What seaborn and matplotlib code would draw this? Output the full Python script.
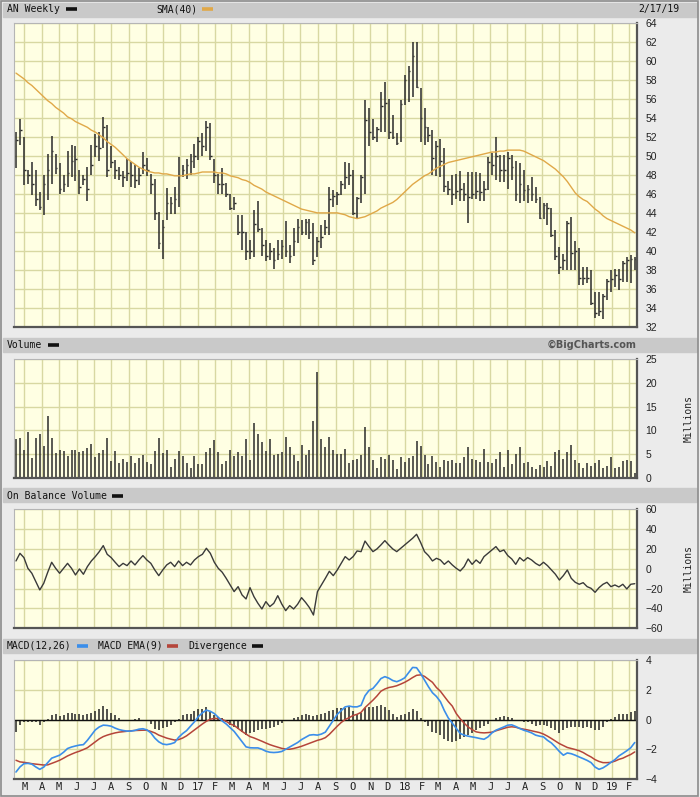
# -------------------------------------------------
# AN weekly chart (BigCharts style) - price, volume, OBV, MACD
# -------------------------------------------------
import pandas as pd
import matplotlib
matplotlib.use("Agg")
import matplotlib.pyplot as plt
import matplotlib.dates as mdates
from matplotlib.patches import Rectangle
from matplotlib.lines import Line2D
import seaborn as sns

sns.set_style("white")
plt.rcParams["font.family"] = ["DejaVu Sans"]

# -------------------------------------------------
# STEP 1 (one per week)
# -------------------------------------------------
first_week = "2016-02-15"

high = [52.5, 53.9, 52.0, 48.5, 49.4, 48.5, 46.2, 48.0, 50.2, 52.1,
        50.2, 49.2, 48.0, 50.5, 51.1, 51.0, 48.5, 48.0, 48.8, 51.1,
        52.3, 52.5, 54.1, 53.2, 51.0, 49.6, 48.8, 48.4, 49.7, 49.3,
        49.0, 48.7, 50.4, 49.8, 48.1, 47.6, 44.1, 43.2, 46.6, 45.7,
        46.7, 49.9, 49.0, 49.7, 50.2, 51.2, 52.0, 52.4, 53.7, 53.5,
        49.7, 48.1, 48.7, 47.1, 46.0, 45.7, 43.8, 43.8, 42.0, 41.1,
        44.3, 45.3, 42.4, 41.1, 40.8, 40.3, 41.1, 41.1, 43.1, 40.6,
        42.4, 43.4, 43.2, 43.4, 43.4, 42.9, 41.5, 42.7, 43.2, 46.7,
        46.4, 46.2, 47.4, 49.4, 49.2, 48.5, 45.7, 48.0, 55.9, 55.0,
        53.9, 53.0, 56.7, 57.8, 56.0, 54.3, 52.4, 55.9, 58.5, 59.4,
        62.0, 62.0, 57.1, 55.0, 53.0, 52.7, 51.6, 51.8, 50.8, 47.4,
        48.0, 48.1, 48.4, 47.1, 48.3, 48.3, 48.3, 48.2, 47.4, 49.9,
        50.3, 52.0, 50.1, 50.1, 50.4, 50.1, 49.5, 49.2, 48.5, 46.9,
        47.8, 46.7, 45.7, 45.0, 45.0, 44.5, 42.2, 40.4, 39.7, 43.1,
        43.6, 41.0, 40.3, 38.3, 38.3, 38.0, 35.7, 35.7, 35.5, 37.1,
        38.0, 38.1, 38.1, 38.9, 39.4, 39.6, 39.4]

low = [48.7, 51.1, 46.9, 47.0, 45.9, 44.7, 44.3, 43.8, 45.4, 47.0,
       48.1, 46.0, 46.2, 46.7, 47.8, 47.4, 46.0, 46.9, 45.3, 48.0,
       49.9, 49.5, 50.8, 47.8, 48.7, 47.6, 47.5, 46.7, 47.4, 46.7,
       46.6, 46.9, 48.1, 47.9, 46.0, 43.2, 40.2, 39.2, 43.2, 43.9,
       43.9, 44.6, 47.8, 47.6, 48.0, 48.7, 49.6, 50.0, 50.5, 49.6,
       47.1, 46.0, 46.0, 45.7, 44.3, 44.3, 41.7, 40.1, 39.0, 39.2,
       39.4, 42.0, 39.5, 38.9, 39.0, 38.1, 39.0, 39.2, 39.4, 38.7,
       39.5, 40.8, 41.7, 41.7, 41.3, 38.5, 39.4, 40.3, 41.7, 41.7,
       44.6, 44.8, 45.9, 46.5, 46.9, 43.8, 43.4, 45.0, 46.0, 51.0,
       51.7, 51.5, 52.5, 52.5, 51.8, 51.8, 51.1, 51.5, 55.3, 55.7,
       56.2, 57.1, 51.5, 51.1, 51.5, 48.0, 47.9, 47.8, 46.2, 45.9,
       44.8, 45.5, 45.3, 45.3, 42.9, 45.5, 45.5, 45.2, 45.3, 46.4,
       48.0, 47.5, 47.3, 47.3, 46.5, 47.5, 45.2, 45.0, 45.2, 45.0,
       45.2, 45.0, 43.4, 43.4, 42.7, 41.5, 39.0, 37.6, 38.0, 38.0,
       38.0, 38.0, 36.4, 36.4, 36.6, 34.3, 32.9, 33.2, 32.8, 34.8,
       35.7, 36.2, 35.9, 36.7, 36.7, 36.6, 38.0]

close = [51.7, 52.7, 48.5, 48.0, 47.0, 45.5, 44.6, 47.0, 48.5, 50.5,
         48.7, 46.5, 47.0, 48.2, 49.5, 49.7, 46.7, 47.6, 46.5, 49.0,
         51.0, 50.8, 53.0, 48.5, 49.4, 48.5, 48.0, 47.8, 48.2, 48.0,
         47.5, 48.0, 49.0, 48.5, 47.0, 44.0, 40.8, 42.5, 45.0, 45.0,
         45.5, 48.0, 48.5, 49.0, 49.5, 50.0, 51.6, 51.0, 53.0, 50.0,
         48.0, 47.0, 47.0, 46.0, 44.5, 45.0, 42.0, 42.0, 40.0, 40.0,
         42.8, 42.3, 40.6, 39.5, 40.0, 39.0, 39.7, 40.5, 40.0, 39.5,
         41.0, 42.5, 42.0, 43.0, 42.0, 39.0, 41.0, 41.5, 42.5, 45.5,
         45.8, 46.0, 47.0, 47.8, 48.0, 44.0, 45.6, 47.8, 53.8, 52.5,
         52.0, 52.8, 55.2, 55.6, 52.5, 52.0, 51.3, 55.5, 58.0, 58.9,
         60.5, 57.2, 54.0, 53.0, 52.2, 49.8, 51.0, 49.5, 46.8, 46.5,
         46.0, 46.3, 46.5, 46.0, 45.7, 46.0, 46.3, 46.2, 46.5, 49.3,
         49.0, 50.0, 48.5, 48.5, 49.8, 48.8, 46.0, 47.0, 46.4, 46.5,
         46.0, 45.5, 43.5, 44.8, 44.5, 41.7, 39.5, 38.3, 39.0, 42.9,
         39.8, 40.0, 37.2, 37.2, 37.2, 34.5, 33.5, 33.7, 35.3, 36.8,
         37.0, 37.5, 37.0, 38.7, 39.0, 39.2, 39.2]

sma40 = [58.7, 58.4, 58.1, 57.7, 57.4, 57.0, 56.6, 56.2, 55.8, 55.5,
         55.1, 54.8, 54.5, 54.1, 53.9, 53.6, 53.4, 53.2, 53.0, 52.7,
         52.5, 52.2, 51.9, 51.5, 51.2, 50.9, 50.5, 50.1, 49.7, 49.4,
         49.1, 48.8, 48.6, 48.4, 48.3, 48.2, 48.2, 48.1, 48.1, 48.0,
         47.9, 47.9, 47.9, 48.0, 48.1, 48.1, 48.2, 48.3, 48.3, 48.3,
         48.3, 48.2, 48.2, 48.1, 47.9, 47.8, 47.7, 47.5, 47.4, 47.2,
         46.9, 46.7, 46.5, 46.2, 46.0, 45.8, 45.6, 45.4, 45.2, 45.0,
         44.8, 44.6, 44.4, 44.3, 44.2, 44.1, 44.0, 44.0, 44.0, 44.0,
         44.0, 44.0, 43.9, 43.8, 43.6, 43.5, 43.4, 43.5, 43.6, 43.8,
         44.0, 44.2, 44.5, 44.7, 44.9, 45.1, 45.4, 45.8, 46.2, 46.6,
         47.0, 47.3, 47.6, 47.9, 48.1, 48.4, 48.7, 48.9, 49.1, 49.3,
         49.4, 49.5, 49.6, 49.7, 49.8, 49.9, 50.0, 50.1, 50.2, 50.3,
         50.4, 50.4, 50.5, 50.5, 50.6, 50.6, 50.6, 50.6, 50.5, 50.3,
         50.1, 49.9, 49.7, 49.5, 49.2, 48.9, 48.6, 48.2, 47.8, 47.3,
         46.7, 46.1, 45.7, 45.4, 45.2, 44.8, 44.4, 44.1, 43.7, 43.4,
         43.2, 43.0, 42.8, 42.6, 42.4, 42.2, 41.9]

# millions of shares
volume = [8.1, 8.3, 5.8, 9.6, 4.2, 8.3, 9.2, 6.7, 13.0, 8.3,
          5.2, 5.8, 5.6, 4.6, 5.8, 5.8, 5.5, 5.6, 6.2, 7.1,
          4.4, 5.2, 5.8, 8.3, 3.6, 5.6, 3.0, 3.9, 3.4, 4.6,
          3.2, 4.2, 4.8, 3.4, 2.8, 5.6, 8.3, 5.2, 5.8, 2.2,
          3.9, 5.6, 4.6, 3.2, 2.1, 4.6, 2.8, 2.8, 5.4, 6.2,
          7.9, 5.4, 2.8, 3.6, 5.8, 4.6, 5.4, 4.6, 8.1, 3.7,
          11.6, 9.3, 7.5, 5.6, 8.1, 4.8, 5.0, 5.4, 8.5, 6.4,
          4.8, 3.6, 6.9, 4.8, 5.8, 12.0, 22.3, 8.1, 6.4, 8.5,
          5.8, 5.1, 5.0, 6.0, 3.2, 3.7, 3.9, 4.8, 10.6, 6.4,
          3.7, 2.0, 4.3, 3.9, 4.8, 3.7, 1.8, 4.4, 3.4, 4.1,
          4.6, 7.7, 6.7, 4.8, 2.8, 4.6, 3.4, 2.2, 3.7, 3.6,
          3.7, 3.0, 3.0, 4.4, 6.4, 3.9, 3.7, 3.4, 6.1, 3.4,
          3.2, 3.9, 5.4, 2.3, 5.8, 2.9, 5.0, 6.4, 3.2, 3.4,
          2.3, 1.8, 2.7, 2.3, 3.5, 2.5, 5.4, 5.8, 3.9, 5.4,
          7.0, 3.7, 3.0, 2.0, 3.2, 2.5, 3.0, 3.7, 2.1, 2.5,
          4.3, 2.1, 2.3, 3.5, 3.7, 3.5, 0.9]

# on balance volume, millions
obv = [7.9, 15.6, 11.3, 0.5, -4.5, -12.9, -21.3, -14.6, -3.5, 6.6,
       0.5, -4.5, 0.5, 5.5, 0.5, -6.2, -0.2, -5.5, 2.2, 7.9,
       12.3, 17.3, 23.4, 14.6, 11.3, 6.6, 2.2, 5.5, 3.2, 7.9,
       3.9, 8.9, 13.3, 8.9, 5.5, -1.2, -6.9, -1.2, 3.9, 6.6,
       2.2, 7.9, 3.2, 6.6, 3.9, 8.9, 12.3, 14.6, 20.7, 15.6,
       6.6, 0.5, -3.5, -9.6, -16.3, -23.0, -18.0, -26.4, -30.4, -19.0,
       -28.1, -34.8, -40.5, -33.1, -38.1, -34.8, -27.1, -35.5, -42.2, -37.1,
       -40.5, -35.8, -29.1, -33.8, -39.2, -46.6, -23.0, -16.3, -9.6, -2.5,
       -6.9, -1.2, 5.5, 12.3, 8.9, 12.3, 18.0, 17.3, 28.0, 22.4,
       17.3, 20.0, 24.0, 28.4, 24.0, 20.0, 17.3, 20.7, 24.0, 27.4,
       30.8, 34.8, 26.7, 17.3, 13.3, 7.9, 10.6, 8.9, 4.5, 7.9,
       3.9, 0.5, -2.2, 2.2, 9.9, 4.5, 8.9, 5.5, 12.3, 15.6,
       19.0, 22.4, 17.3, 19.0, 13.3, 9.9, 4.5, 11.3, 7.9, 11.3,
       8.9, 5.5, 3.2, 6.6, 3.2, -1.2, -5.5, -11.3, -6.9, -1.2,
       -9.6, -13.6, -15.6, -14.0, -18.0, -19.7, -23.7, -19.0, -15.6, -13.6,
       -18.0, -16.3, -18.3, -15.6, -20.3, -15.6, -15.0]

macd = [-3.53, -3.19, -2.97, -2.95, -3.00, -3.19, -3.35, -3.20, -2.90, -2.60,
        -2.50, -2.40, -2.20, -1.95, -1.85, -1.78, -1.72, -1.69, -1.40, -1.05,
        -0.70, -0.50, -0.38, -0.40, -0.45, -0.58, -0.68, -0.74, -0.78, -0.78,
        -0.73, -0.65, -0.62, -0.70, -0.90, -1.25, -1.50, -1.65, -1.69, -1.64,
        -1.55, -1.20, -0.95, -0.75, -0.45, -0.15, 0.20, 0.45, 0.63, 0.55,
        0.40, 0.15, -0.10, -0.30, -0.55, -0.80, -1.15, -1.50, -1.84, -1.90,
        -1.91, -1.91, -2.00, -2.13, -2.20, -2.22, -2.20, -2.15, -2.00, -1.85,
        -1.70, -1.55, -1.35, -1.20, -1.05, -1.02, -1.05, -0.98, -0.85, -0.45,
        -0.05, 0.35, 0.60, 0.85, 0.90, 0.85, 0.85, 0.95, 1.60, 1.95,
        2.09, 2.40, 2.75, 2.88, 2.78, 2.62, 2.54, 2.65, 2.80, 3.15,
        3.50, 3.48, 3.10, 2.65, 2.20, 1.80, 1.55, 1.20, 0.60, 0.10,
        -0.25, -0.60, -0.94, -1.05, -1.12, -1.17, -1.22, -1.28, -1.33, -1.17,
        -0.90, -0.72, -0.61, -0.50, -0.38, -0.36, -0.47, -0.60, -0.72, -0.80,
        -0.90, -1.05, -1.12, -1.17, -1.40, -1.58, -1.85, -2.15, -2.40, -2.25,
        -2.30, -2.40, -2.52, -2.63, -2.75, -2.90, -3.20, -3.35, -3.25, -3.08,
        -2.88, -2.70, -2.45, -2.28, -2.10, -1.90, -1.55]

macd_ema = [-2.74, -2.85, -2.88, -2.92, -2.97, -3.00, -3.03, -3.06, -3.05, -2.95,
            -2.85, -2.74, -2.60, -2.45, -2.33, -2.22, -2.13, -2.02, -1.90, -1.70,
            -1.50, -1.30, -1.15, -1.05, -0.97, -0.90, -0.85, -0.82, -0.79, -0.76,
            -0.74, -0.73, -0.72, -0.72, -0.80, -0.90, -1.05, -1.15, -1.25, -1.32,
            -1.38, -1.35, -1.25, -1.10, -0.90, -0.70, -0.50, -0.30, -0.12, 0.02,
            0.07, 0.07, 0.00, -0.12, -0.30, -0.40, -0.60, -0.80, -0.98, -1.15,
            -1.24, -1.35, -1.46, -1.58, -1.69, -1.78, -1.86, -1.94, -1.99, -2.00,
            -1.95, -1.88, -1.80, -1.70, -1.60, -1.50, -1.40, -1.33, -1.22, -1.00,
            -0.72, -0.45, -0.20, 0.00, 0.12, 0.27, 0.35, 0.48, 0.80, 1.05,
            1.30, 1.58, 1.90, 2.05, 2.15, 2.20, 2.27, 2.38, 2.50, 2.65,
            2.82, 2.97, 3.00, 2.90, 2.70, 2.50, 2.15, 1.90, 1.55, 1.20,
            0.90, 0.40, 0.05, -0.25, -0.50, -0.68, -0.83, -0.88, -0.90, -0.88,
            -0.85, -0.76, -0.68, -0.60, -0.52, -0.49, -0.52, -0.60, -0.65, -0.70,
            -0.76, -0.82, -0.88, -0.98, -1.12, -1.28, -1.45, -1.62, -1.75, -1.88,
            -1.95, -2.02, -2.10, -2.22, -2.38, -2.52, -2.70, -2.82, -2.90, -2.90,
            -2.88, -2.80, -2.68, -2.60, -2.47, -2.35, -2.18]

divergence = [-0.83, -0.34, -0.20, -0.16, -0.20, -0.16, -0.38, -0.20, 0.05, 0.29,
              0.34, 0.22, 0.29, 0.47, 0.47, 0.38, 0.34, 0.29, 0.34, 0.47,
              0.60, 0.70, 0.88, 0.70, 0.47, 0.29, 0.07, 0.00, -0.02, 0.00,
              0.02, 0.11, 0.00, -0.11, -0.27, -0.67, -0.70, -0.60, -0.50, -0.38,
              -0.16, 0.05, 0.29, 0.34, 0.40, 0.56, 0.70, 0.70, 0.81, 0.52,
              0.29, 0.18, 0.07, -0.20, -0.38, -0.50, -0.65, -0.83, -1.01, -0.88,
              -0.83, -0.72, -0.67, -0.63, -0.58, -0.50, -0.38, -0.25, -0.11, -0.04,
              0.11, 0.20, 0.29, 0.38, 0.29, 0.25, 0.29, 0.38, 0.47, 0.56,
              0.63, 0.74, 0.79, 0.79, 0.85, 0.56, 0.40, 0.47, 0.79, 0.85,
              0.85, 0.92, 0.97, 0.85, 0.63, 0.34, 0.18, 0.29, 0.38, 0.52,
              0.70, 0.56, 0.07, -0.20, -0.43, -0.83, -0.94, -1.06, -1.28, -1.46,
              -1.50, -1.46, -1.33, -1.17, -1.06, -0.88, -0.72, -0.56, -0.43, -0.27,
              -0.04, 0.11, 0.20, 0.22, 0.20, 0.11, -0.04, -0.11, -0.16, -0.20,
              -0.29, -0.43, -0.34, -0.38, -0.43, -0.56, -0.72, -0.94, -0.72, -0.56,
              -0.52, -0.52, -0.50, -0.56, -0.50, -0.60, -0.72, -0.72, -0.50, -0.20,
              0.02, 0.18, 0.34, 0.40, 0.40, 0.52, 0.58]

weeks = pd.date_range(first_week, periods=len(close), freq="W-MON")
df = pd.DataFrame({
    "x": mdates.date2num(weeks),
    "high": high, "low": low, "close": close, "sma40": sma40,
    "volume": volume, "obv": obv,
    "macd": macd, "macd_ema": macd_ema, "divergence": divergence,
})

# month grid / labels (first letter, year number for January)
months = pd.date_range("2016-03-01", "2019-02-01", freq="MS")
month_x = mdates.date2num(months)
month_lbl = [m.strftime("%y") if m.month == 1 else m.strftime("%b")[0] for m in months]

# -------------------------------------------------
# STEP 2 — Figure and panels (pixel layout of the original)
# -------------------------------------------------
W, H = 700, 797
BG = "#ebebeb"
PANEL = "#ffffe3"
GRID = "#d8d8a2"
HEAD = "#c9c9c9"

fig = plt.figure(figsize=(W / 100, H / 100), dpi=100)
fig.patch.set_facecolor(BG)


def px_axes(x0, y_top, x1, y_bot):
    return fig.add_axes([x0 / W, 1 - y_bot / H, (x1 - x0) / W, (y_bot - y_top) / H])


def header(y_top, y_bot):
    fig.add_artist(Rectangle((3 / W, 1 - y_bot / H), 694 / W, (y_bot - y_top) / H,
                             transform=fig.transFigure, color=HEAD, zorder=0))


def head_text(x, y, s, **kw):
    fig.text(x / W, 1 - y / H, s, family="DejaVu Sans Mono", fontsize=7,
             va="center", color="#111111", **kw)


def dash(x0, x1, y, color):
    fig.add_artist(Line2D([x0 / W, x1 / W], [1 - y / H, 1 - y / H],
                          transform=fig.transFigure, color=color, lw=2.6,
                          solid_capstyle="butt"))


x_left = df["x"].iloc[0] - 3.5
x_right = df["x"].iloc[-1] + 4.0


def style_axes(ax, yticks, ylim):
    ax.set_facecolor(PANEL)
    ax.set_xlim(x_left, x_right)
    ax.set_ylim(*ylim)
    ax.set_xticks(month_x)
    ax.set_yticks(yticks)
    ax.set_axisbelow(True)
    ax.grid(True, color=GRID, lw=1.0)
    ax.yaxis.tick_right()
    ax.tick_params(axis="both", length=0)
    ax.tick_params(axis="y", pad=6, labelsize=7.5, labelcolor="#222222")
    ax.tick_params(axis="x", labelbottom=False)
    for t in ax.get_yticklabels():
        t.set_family("Liberation Sans")
    for s in ("left", "top"):
        ax.spines[s].set_color("#b5b5b5")
        ax.spines[s].set_linewidth(0.8)
    for s in ("right", "bottom"):
        ax.spines[s].set_color("#555555")
        ax.spines[s].set_linewidth(1.6)
    ax.set_xlabel("")
    ax.set_ylabel("")


# -------------------------------------------------
# STEP 3 — Price bars + SMA(40)
# -------------------------------------------------
header(2.7, 16.5)
head_text(7, 9, "AN Weekly")
dash(66, 77, 9, "#111111")
head_text(156, 9, "SMA(40)")
dash(202, 213, 9, "#e0a848")
head_text(679, 9, "2/17/19", ha="right")

ax_p = px_axes(14, 22.7, 637, 327)
ax_p.vlines(df["x"], df["low"], df["high"], color="#2a2a2a", lw=1.1)
ax_p.hlines(df["close"], df["x"], df["x"] + 3.0, color="#2a2a2a", lw=1.0)
sns.lineplot(data=df, x="x", y="sma40", ax=ax_p, color="#e0a848", lw=1.0,
             estimator=None)
style_axes(ax_p, range(32, 65, 2), (32, 64))

# -------------------------------------------------
# STEP 4 — Volume
# -------------------------------------------------
header(337.7, 351.7)
head_text(7, 344.5, "Volume")
dash(48, 59, 344.5, "#111111")
fig.text(637 / W, 1 - 344.5 / H, "\u00a9BigCharts.com", fontsize=7,
         fontweight="bold", color="#555555", ha="right", va="center")

ax_v = px_axes(14, 359.3, 637, 477.7)
ax_v.vlines(df["x"], 0, df["volume"], color="#2b2b2b", lw=1.1)
style_axes(ax_v, range(0, 26, 5), (0, 25))
fig.text(689 / W, 1 - 419 / H, "Millions", rotation=90, family="DejaVu Sans Mono",
         fontsize=7, ha="center", va="center", color="#222222")

# -------------------------------------------------
# STEP 5 — On Balance Volume
# -------------------------------------------------
header(488.3, 502.3)
head_text(7, 495.5, "On Balance Volume")
dash(112, 123, 495.5, "#111111")

ax_o = px_axes(14, 509.3, 637, 628.3)
sns.lineplot(data=df, x="x", y="obv", ax=ax_o, color="#3a3a3a", lw=1.0,
             estimator=None)
style_axes(ax_o, range(-60, 61, 20), (-60, 60))
fig.text(689 / W, 1 - 569 / H, "Millions", rotation=90, family="DejaVu Sans Mono",
         fontsize=7, ha="center", va="center", color="#222222")

# -------------------------------------------------
# STEP 6 — MACD
# -------------------------------------------------
header(639, 653)
head_text(7, 646, "MACD(12,26)")
dash(77, 88, 646, "#3b8eea")
head_text(98, 646, "MACD EMA(9)")
dash(167, 178, 646, "#b5453a")
head_text(188, 646, "Divergence")
dash(252, 263, 646, "#111111")

ax_m = px_axes(14, 660, 637, 779)
ax_m.vlines(df["x"], 0, df["divergence"], color="#222222", lw=1.1)
ax_m.axhline(0, color="#111111", lw=1.0)
sns.lineplot(data=df, x="x", y="macd_ema", ax=ax_m, color="#b5453a", lw=1.1,
             estimator=None)
sns.lineplot(data=df, x="x", y="macd", ax=ax_m, color="#3b8eea", lw=1.2,
             estimator=None)
style_axes(ax_m, range(-4, 5, 2), (-4, 4))
ax_m.tick_params(axis="x", labelbottom=True, pad=2)
ax_m.set_xticklabels(month_lbl, family="DejaVu Sans Mono", fontsize=7.5,
                     color="#222222")

# outer frame
fig.add_artist(Rectangle((1 / W, 1 / H), 697 / W, 795 / H, transform=fig.transFigure,
                         fill=False, edgecolor="#8c8c8c", lw=1.2))

fig.savefig("out.png", dpi=100, facecolor=fig.get_facecolor())
